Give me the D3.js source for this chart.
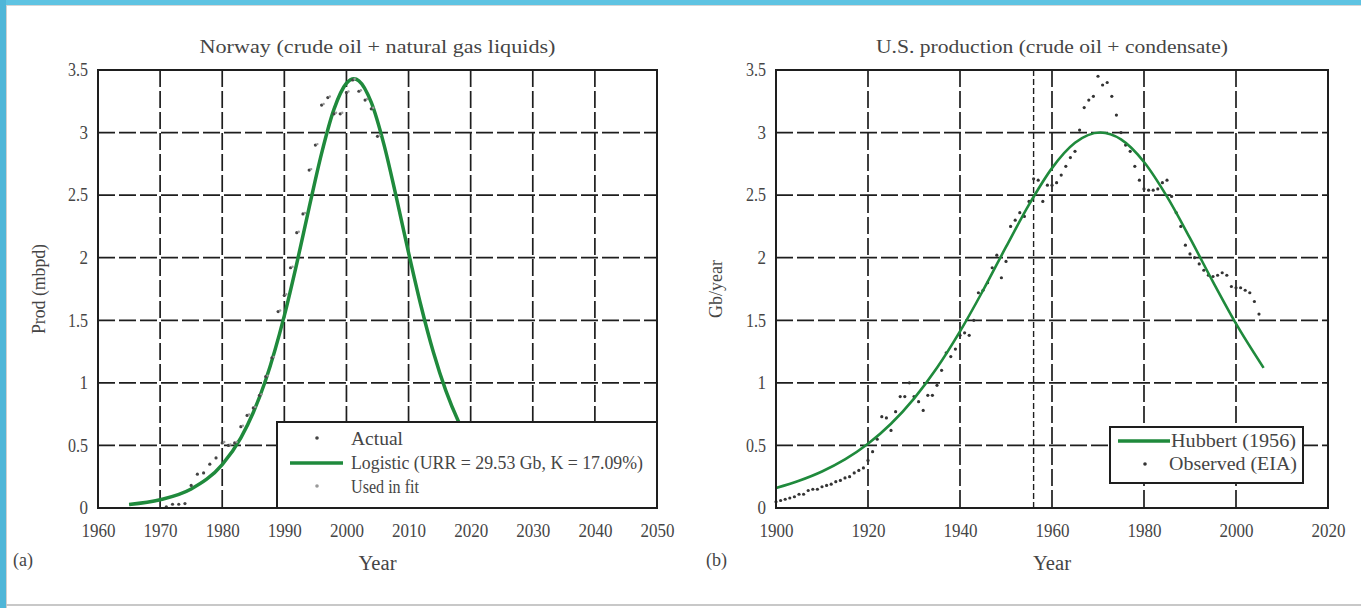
<!DOCTYPE html>
<html><head><meta charset="utf-8">
<script src="https://cdn.jsdelivr.net/npm/d3@7"></script>
<style>html,body{margin:0;padding:0;background:#fff;}svg{display:block;}</style>
</head><body>
<svg id="c" width="1361" height="608"></svg>
<script>
// ---------- data ----------
const norwayYears = [1971,1972,1973,1974,1975,1976,1977,1978,1979,1980,1981,1982,1983,1984,1985,1986,1987,1988,1989,1990,1991,1992,1993,1994,1995,1996,1997,1998,1999,2000,2001,2002,2003,2004,2005];
const norwayActual = [0.01,0.03,0.03,0.035,0.18,0.27,0.28,0.35,0.40,0.52,0.50,0.52,0.65,0.74,0.80,0.90,1.05,1.20,1.57,1.70,1.92,2.20,2.35,2.70,2.90,3.22,3.28,3.15,3.15,3.32,3.42,3.33,3.26,3.19,2.97];
const norwayFitYears = [1965,1970,1975,1980,1983,1985,1987,1990,1992,1994,1996,1998,2000,2001.2,2002,2004,2006,2008,2010,2012,2014,2016,2018,2020];
const norwayFit = [0.028,0.066,0.152,0.347,0.561,0.763,1.023,1.537,1.953,2.402,2.834,3.187,3.394,3.43,3.414,3.241,2.912,2.490,2.041,1.616,1.244,0.938,0.696,0.510];
const norwayXTicks = [1960,1970,1980,1990,2000,2010,2020,2030,2040,2050];
const yTicks = [0,0.5,1,1.5,2,2.5,3,3.5];

const usYears = d3.range(1900,2006);
const usObserved = [0.05,0.06,0.07,0.08,0.09,0.11,0.11,0.14,0.15,0.15,
  0.17,0.18,0.19,0.21,0.22,0.24,0.25,0.28,0.30,0.32,
  0.38,0.45,0.55,0.73,0.72,0.62,0.77,0.89,0.89,1.00,
  0.89,0.85,0.78,0.90,0.90,0.98,1.10,1.24,1.21,1.27,
  1.38,1.40,1.38,1.50,1.72,1.74,1.80,1.92,2.02,1.84,
  1.97,2.25,2.30,2.36,2.33,2.45,2.63,2.62,2.45,2.58,
  2.58,2.60,2.66,2.73,2.80,2.85,3.02,3.20,3.26,3.29,
  3.45,3.38,3.40,3.29,3.14,3.00,2.90,2.85,2.73,2.62,
  2.55,2.54,2.54,2.55,2.60,2.62,2.49,2.36,2.25,2.10,
  2.03,2.00,1.95,1.90,1.86,1.85,1.86,1.88,1.86,1.77,
  1.76,1.76,1.74,1.72,1.65,1.55];
const hubbertYears = [1900,1905,1910,1915,1920,1925,1930,1935,1940,1945,1950,1955,1960,1965,1970.5,1975,1980,1985,1990,1995,2000,2006];
const hubbertValues = [0.16,0.218,0.292,0.388,0.513,0.673,0.874,1.12,1.411,1.738,2.086,2.424,2.716,2.918,3.0,2.945,2.765,2.488,2.156,1.807,1.473,1.12];
const usXTicks = [1900,1920,1940,1960,1980,2000,2020];
const usGridX = [1920,1940,1960,1980,2000];
const hubbertMarkYear = 1956;

// ---------- drawing ----------
const svg = d3.select("#c");
const FONT = "'Liberation Serif','DejaVu Serif',serif";
const TXT = "#454545";
const GREEN = "#1f8a3c";
const GRID = "#1e1e1e";

svg.append("rect").attr("x",0).attr("y",0).attr("width",1361).attr("height",608).attr("fill","#fff");
svg.append("rect").attr("x",0).attr("y",0).attr("width",1361).attr("height",5).attr("fill","#5ec3e2");
svg.append("rect").attr("x",0).attr("y",0).attr("width",6).attr("height",608).attr("fill","#4fb6d8");
svg.append("line").attr("x1",6).attr("x2",1361).attr("y1",5.5).attr("y2",5.5).attr("stroke","#d6d6d6");
svg.append("line").attr("x1",6.5).attr("x2",6.5).attr("y1",5).attr("y2",608).attr("stroke","#d0d0d0");
svg.append("line").attr("x1",6).attr("x2",1361).attr("y1",605).attr("y2",605).attr("stroke","#c8c8c8").attr("stroke-width",2);

function txt(g,x,y,s,size,len,anchor){
  const t = g.append("text").attr("x",x).attr("y",y).attr("text-anchor",anchor||"start")
    .style("font-family",FONT).style("font-size",size+"px").attr("fill",TXT).text(s);
  if(len) t.attr("textLength",len).attr("lengthAdjust","spacingAndGlyphs");
  return t;
}

function panel(o){
  const x = d3.scaleLinear().domain(o.xDomain).range([o.left,o.right]);
  const y = d3.scaleLinear().domain([0,3.5]).range([o.bottom,o.top]);
  const g = svg.append("g");
  o.gridX.forEach(v=>{
    g.append("line").attr("x1",x(v)).attr("x2",x(v)).attr("y1",o.top).attr("y2",o.bottom)
      .attr("stroke",GRID).attr("stroke-width",1.7).attr("stroke-dasharray","17,4");
  });
  yTicks.slice(1,-1).forEach(v=>{
    g.append("line").attr("x1",o.left).attr("x2",o.right).attr("y1",y(v)).attr("y2",y(v))
      .attr("stroke",GRID).attr("stroke-width",1.7).attr("stroke-dasharray","17,4");
  });
  if(o.markYear){
    g.append("line").attr("x1",x(o.markYear)).attr("x2",x(o.markYear)).attr("y1",o.top).attr("y2",o.bottom)
      .attr("stroke",GRID).attr("stroke-width",1.4).attr("stroke-dasharray","6,3");
  }
  const xa = d3.axisBottom(x).tickValues(o.xTicks).tickFormat(d3.format("d")).tickSize(0).tickPadding(16);
  const ya = d3.axisLeft(y).tickValues(yTicks).tickFormat(d=>String(d)).tickSize(0).tickPadding(10);
  const gx = g.append("g").attr("transform",`translate(0,${o.bottom})`).call(xa);
  const gy = g.append("g").attr("transform",`translate(${o.left},0)`).call(ya);
  [gx,gy].forEach(a=>{
    a.select(".domain").remove();
    a.selectAll("text").style("font-family",FONT).style("font-size","18px").attr("fill",TXT)
      .attr("textLength",function(){const s=this.textContent;return s.replace(".","").length*8.5+(s.includes(".")?3:0);})
      .attr("lengthAdjust","spacingAndGlyphs");
  });
  o.draw(g,x,y);
  g.append("rect").attr("x",o.left).attr("y",o.top).attr("width",o.right-o.left).attr("height",o.bottom-o.top)
    .attr("fill","none").attr("stroke",GRID).attr("stroke-width",2);
  txt(g,(o.left+o.right)/2,o.top-17,o.title,19.5,o.titleLen,"middle");
  txt(g,(o.left+o.right)/2,o.bottom+62,"Year",20,38,"middle");
  txt(g,0,0,o.ylab,19,o.ylabLen,"middle").attr("x",null).attr("y",null)
    .attr("transform",`translate(${o.ylabX},${(o.top+o.bottom)/2}) rotate(-90)`);
  txt(g,o.tagX,o.bottom+58,o.tag,18,null);
  return {x,y,g};
}

const line = (x,y)=>d3.line().x(d=>x(d[0])).y(d=>y(d[1])).curve(d3.curveMonotoneX);

panel({
  left:98,right:657,top:70,bottom:508,xDomain:[1960,2050],
  gridX:norwayXTicks.slice(1,-1), xTicks:norwayXTicks,
  title:"Norway (crude oil + natural gas liquids)", titleLen:356,
  ylab:"Prod (mbpd)", ylabLen:90, ylabX:45, tag:"(a)", tagX:13,
  draw:(g,x,y)=>{
    g.append("path").datum(norwayFitYears.map((t,i)=>[t,norwayFit[i]]))
      .attr("d",line(x,y)).attr("fill","none").attr("stroke",GREEN).attr("stroke-width",3.5);
    g.selectAll(".act").data(norwayYears).enter().append("circle")
      .attr("cx",d=>x(d)).attr("cy",(d,i)=>y(norwayActual[i])).attr("r",1.6).attr("fill","#444");
    g.selectAll(".fit").data(norwayYears.filter(d=>d>=1980)).enter().append("circle")
      .attr("cx",d=>x(d)+2).attr("cy",d=>y(norwayActual[norwayYears.indexOf(d)])-1).attr("r",1.2).attr("fill","#9a9a9a");
    const lg = g.append("g");
    lg.append("rect").attr("x",277).attr("y",422).attr("width",380).attr("height",86).attr("fill","#fff").attr("stroke",GRID).attr("stroke-width",2);
    const items = [["Actual","dot","#444",52],["Logistic (URR = 29.53 Gb, K = 17.09%)","line",GREEN,292],["Used in fit","dot","#999",68]];
    items.forEach((it,i)=>{
      const yy = 439 + i*24;
      if(it[1]==="dot") lg.append("circle").attr("cx",317).attr("cy",yy-1).attr("r",1.8).attr("fill",it[2]);
      else lg.append("line").attr("x1",290).attr("x2",343).attr("y1",yy).attr("y2",yy).attr("stroke",GREEN).attr("stroke-width",3.5);
      txt(lg,351,yy+6,it[0],18.5,it[3]);
    });
  }
});

panel({
  left:776,right:1328,top:70,bottom:508,xDomain:[1900,2020],
  gridX:usGridX, xTicks:usXTicks, markYear:hubbertMarkYear,
  title:"U.S. production (crude oil + condensate)", titleLen:352,
  ylab:"Gb/year", ylabLen:58, ylabX:722, tag:"(b)", tagX:706,
  draw:(g,x,y)=>{
    g.selectAll(".obs").data(usYears).enter().append("circle")
      .attr("cx",d=>x(d)).attr("cy",(d,i)=>y(usObserved[i])).attr("r",1.6).attr("fill","#333");
    g.append("path").datum(hubbertYears.map((t,i)=>[t,hubbertValues[i]]))
      .attr("d",line(x,y)).attr("fill","none").attr("stroke",GREEN).attr("stroke-width",2.6);
    const lg = g.append("g");
    lg.append("rect").attr("x",1110).attr("y",427).attr("width",193).attr("height",56).attr("fill","#fff").attr("stroke",GRID).attr("stroke-width",2);
    lg.append("line").attr("x1",1118).attr("x2",1170).attr("y1",441).attr("y2",441).attr("stroke",GREEN).attr("stroke-width",3.5);
    txt(lg,1171,447,"Hubbert (1956)",18.5,125);
    lg.append("circle").attr("cx",1145).attr("cy",464).attr("r",1.8).attr("fill","#333");
    txt(lg,1169,470,"Observed (EIA)",18.5,128);
  }
});
</script>
</body></html>
